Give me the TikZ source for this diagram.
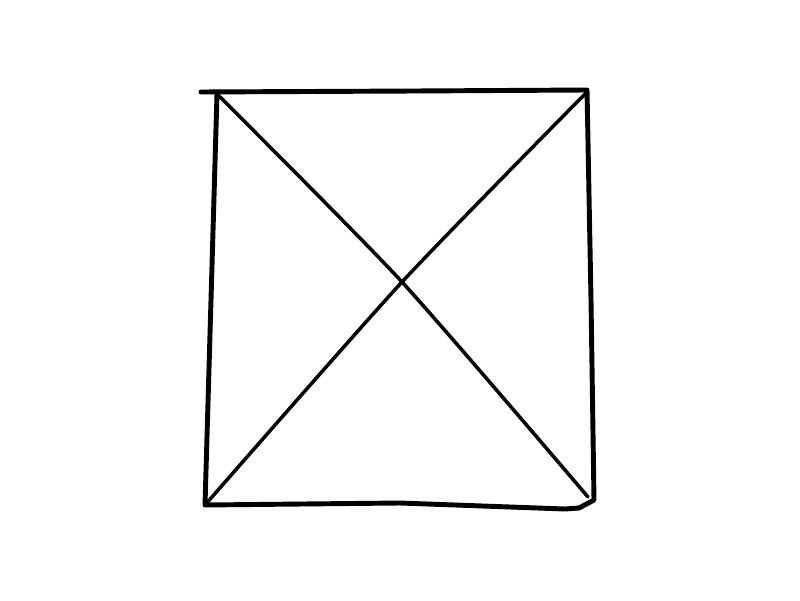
\documentclass[tikz,border=0pt]{standalone}
\usepackage{tikz}

\begin{document}
\begin{tikzpicture}[frame/.style={line width=2.8pt, line cap=round, line join=round},
    cross/.style={line width=2pt, line cap=round}]
	\useasboundingbox (0,0) rectangle (16,12);
	\coordinate (tl) at (4.34, 10.12);
	\coordinate (tr) at (11.74, 10.20);
	\coordinate (br) at (11.88, 2.00);
	\coordinate (bl) at (4.10, 1.90);
	\coordinate (mid) at (8.04, 6.36);
	\draw [frame] (4.02, 10.16) -- (8.3, 10.18) -- (tr) -- (11.82, 6.0) -- (br) -- (11.58, 1.84) -- (11.30, 1.82) -- (8.0, 1.94) -- (bl) -- (4.22, 6.0) -- (tl);
	\draw [cross] plot [smooth, tension=0.4] coordinates {(tl) (mid) (11.76, 2.06)};
	\draw [cross] plot [smooth, tension=0.4] coordinates {(bl) (mid) (11.72, 10.14)};
\end{tikzpicture}
\end{document}
